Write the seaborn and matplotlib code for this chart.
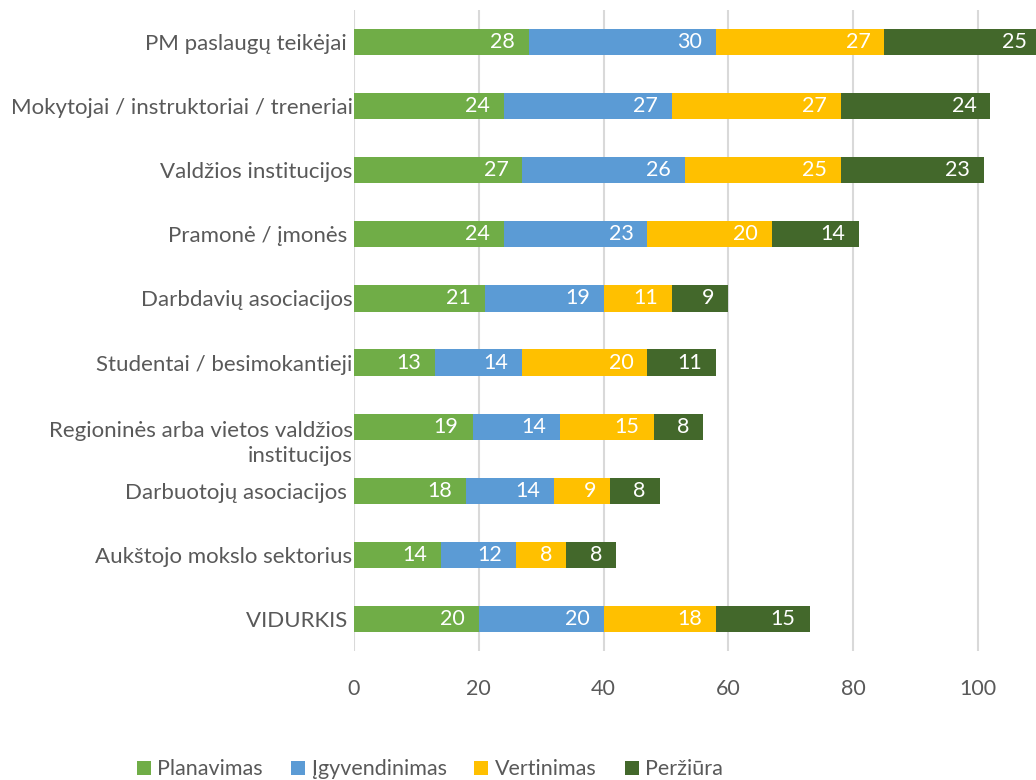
import matplotlib
matplotlib.use("Agg")
import matplotlib.pyplot as plt
import seaborn as sns
import pandas as pd
from matplotlib.patches import Patch
from matplotlib.transforms import ScaledTranslation

# Chart data
categories = [
    "PM paslaugų teikėjai ",
    "Mokytojai / instruktoriai / treneriai",
    "Valdžios institucijos",
    "Pramonė / įmonės ",
    "Darbdavių asociacijos",
    "Studentai / besimokantieji",
    "Regioninės arba vietos valdžios\ninstitucijos",
    "Darbuotojų asociacijos ",
    "Aukštojo mokslo sektorius",
    "VIDURKIS ",
]
planavimas = [28, 24, 27, 24, 21, 13, 19, 18, 14, 20]
igyvendinimas = [30, 27, 26, 23, 19, 14, 14, 14, 12, 20]
vertinimas = [27, 27, 25, 20, 11, 20, 15, 9, 8, 18]
perziura = [25, 24, 23, 14, 9, 11, 8, 8, 8, 15]

series_names = ["Planavimas", "Įgyvendinimas", "Vertinimas", "Peržiūra"]
colors = ["#70AD47", "#5B9BD5", "#FFC000", "#43682B"]
x_ticks = [0, 20, 40, 60, 80, 100]

sns.set_style("white")
plt.rcParams["font.family"] = ["Lato", "DejaVu Sans"]
text_color = "#595959"

df = pd.DataFrame({
    "category": categories,
    "Planavimas": planavimas,
    "Įgyvendinimas": igyvendinimas,
    "Vertinimas": vertinimas,
    "Peržiūra": perziura,
})
cum = df[series_names].cumsum(axis=1)

fig = plt.figure(figsize=(10.36, 7.80), dpi=100)
ax = fig.add_axes([354 / 1036, 1 - 651 / 780, 1 - 354 / 1036, (651 - 10) / 780])

# stacked bars: draw cumulative totals from the last series back to the first
for name, color in reversed(list(zip(series_names, colors))):
    sns.barplot(x=cum[name], y=df["category"], color=color, width=0.41,
                saturation=1, orient="h", ax=ax, zorder=3, linewidth=0)

# value labels near the inner end of each segment
for name in series_names:
    for i, (v, end) in enumerate(zip(df[name], cum[name])):
        ax.annotate(f"{v}", xy=(end, i), xytext=(-10, 0),
                    textcoords="offset points", ha="right", va="center",
                    color="white", fontsize=15.5, zorder=5, annotation_clip=False)

ax.set_xlim(0, (1036 - 354) / 6.24)
ax.set_ylim(len(categories) - 0.5, -0.5)
ax.set_xticks(x_ticks)
ax.xaxis.grid(True, color="#D9D9D9", linewidth=1.5, zorder=0)
ax.set_axisbelow(True)
for s in ax.spines.values():
    s.set_visible(False)
ax.set_xlabel("")
ax.set_ylabel("")
ax.tick_params(axis="x", length=0, pad=20, labelsize=15.5, labelcolor=text_color)
ax.tick_params(axis="y", length=0, pad=1, labelsize=16, labelcolor=text_color)

# wrapped label sits a bit lower than its bar
for lab in ax.get_yticklabels():
    if lab.get_text().startswith("Regioninės"):
        lab.set_linespacing(1.35)
        lab.set_transform(lab.get_transform() + ScaledTranslation(0, -12 / 100, fig.dpi_scale_trans))

handles = [Patch(facecolor=c, edgecolor="none") for c in colors]
fig.legend(handles, series_names, loc="lower center", bbox_to_anchor=(430 / 1036, -0.024),
           ncol=4, frameon=False, fontsize=15.5, labelcolor=text_color,
           handlelength=0.65, handleheight=0.65, handletextpad=0.3, columnspacing=1.3)

fig.savefig("out.png", dpi=100)
